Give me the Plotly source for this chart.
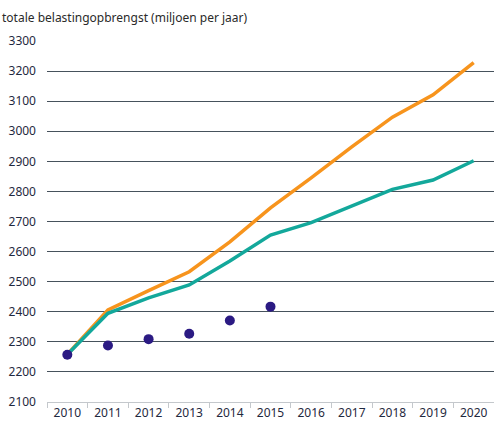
import plotly.graph_objects as go

# Jaren en belastingopbrengst (miljoen euro per jaar)
years = ["2010", "2011", "2012", "2013", "2014", "2015", "2016", "2017", "2018", "2019", "2020"]
raming_hoog = [2258, 2406, 2470, 2533, 2632, 2745, 2845, 2948, 3047, 3121, 3228]
raming_laag = [2258, 2395, 2446, 2489, 2569, 2655, 2696, 2752, 2807, 2838, 2902]
realisatie_years = ["2010", "2011", "2012", "2013", "2014", "2015"]
realisatie = [2257, 2288, 2309, 2327, 2371, 2417]
y_ticks = [2100, 2200, 2300, 2400, 2500, 2600, 2700, 2800, 2900, 3000, 3100, 3200, 3300]

FONT = "Noto Sans"
TEXT = "#1f2940"

fig = go.Figure()
fig.add_trace(go.Scatter(x=years, y=raming_hoog, mode="lines",
                         line=dict(color="#f7941d", width=3.5), hoverinfo="skip"))
fig.add_trace(go.Scatter(x=years, y=raming_laag, mode="lines",
                         line=dict(color="#13a89b", width=3.5), hoverinfo="skip"))
fig.add_trace(go.Scatter(x=realisatie_years, y=realisatie, mode="markers",
                         marker=dict(color="#2b1a83", size=10), hoverinfo="skip"))

fig.update_layout(
    width=494, height=423,
    margin=dict(l=47, r=0, t=41, b=21),
    paper_bgcolor="white", plot_bgcolor="white",
    showlegend=False,
    font=dict(family=FONT, size=12, color=TEXT),
    annotations=[dict(text="totale belastingopbrengst (miljoen per jaar)",
                      xref="paper", yref="paper", x=-47 / 447, y=1.0,
                      xanchor="left", yanchor="bottom", yshift=13,
                      showarrow=False, font=dict(family=FONT, size=12, color="#2a2a2a"))],
)
fig.update_xaxes(
    type="category", categoryorder="array", categoryarray=years,
    range=[-0.5, 10.5],
    showgrid=False, showline=True, linecolor="#c4c8cc", linewidth=1,
    ticks="outside", tickson="boundaries", ticklen=5, tickcolor="#c4c8cc",
    tickfont=dict(family=FONT, size=12, color=TEXT),
)
fig.update_yaxes(
    range=[2100, 3300], tickvals=y_ticks,
    showgrid=True, gridcolor="#46525c", gridwidth=1.3,
    zeroline=False, showline=False,
    ticklabelstandoff=10,
    tickfont=dict(family=FONT, size=12, color=TEXT),
)

fig.write_html("out.html")
